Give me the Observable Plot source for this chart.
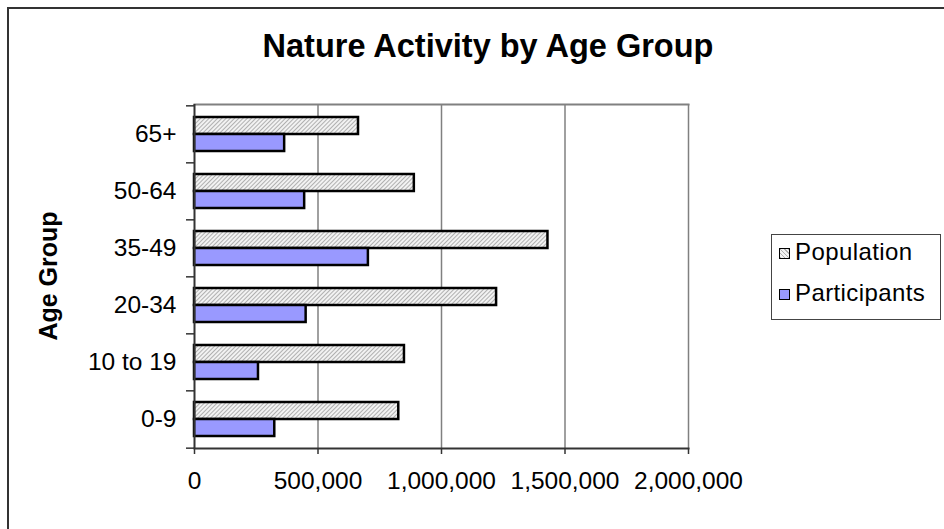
<!DOCTYPE html>
<html>
<head>
<meta charset="utf-8">
<script src="https://cdn.jsdelivr.net/npm/d3@7"></script>
<script src="https://cdn.jsdelivr.net/npm/@observablehq/plot@0.6"></script>
<style>
  html, body { margin: 0; padding: 0; background: #fff; width: 944px; height: 529px; overflow: hidden; }
  body { position: relative; font-family: "Liberation Sans", Arial, sans-serif; }
  #border { position: absolute; left: 7px; top: 7px; width: 1200px; height: 1200px;
            border-left: 2px solid #333; border-top: 2px solid #333; }
  #title { position: absolute; left: 0; width: 976px; top: 28px; text-align: center;
           font-weight: bold; font-size: 32.5px; color: #000; }
  #ylabel { position: absolute; left: 48px; top: 276px; transform: translate(-50%, -50%) rotate(-90deg);
            font-weight: bold; font-size: 25px; white-space: nowrap; color: #000; }
  #legend { position: absolute; left: 771px; top: 234px; width: 168px; height: 84px;
            border: 1.5px solid #444; background: #fff; }
  .item { position: absolute; left: 7px; font-size: 24px; letter-spacing: 0.4px; color: #000; white-space: nowrap; }
  .sw { display: inline-block; width: 9px; height: 9px; border: 1.5px solid #000; margin-right: 5px; vertical-align: 1px; }
  #chart { position: absolute; left: 0; top: 0; }
</style>
</head>
<body>
<div id="border"></div>
<div id="title">Nature Activity by Age Group</div>
<div id="ylabel">Age Group</div>
<div id="chart"></div>
<div id="legend">
  <div class="item" style="top:3px"><span class="sw" style="background: repeating-linear-gradient(45deg, #b0b0b0 0 1px, #f2f2f2 1px 3px);"></span>Population</div>
  <div class="item" style="top:44px"><span class="sw" style="background:#9999ff;"></span>Participants</div>
</div>
<script>
const ages = ["0-9", "10 to 19", "20-34", "35-49", "50-64", "65+"];
const population = [827000, 850000, 1223000, 1431000, 890000, 664000];
const participants = [325000, 259000, 452000, 704000, 446000, 365000];
const xTicks = [0, 500000, 1000000, 1500000, 2000000];

const data = ages.map((age, i) => ({age, population: population[i], participants: participants[i]}));

const W = 944, H = 529;
const mL = 194, mR = 256, mT = 104, mB = 81;
const padInner = 0.407, padOuter = padInner / 2;
const step = (H - mT - mB) / ages.length;
const bw = step * (1 - padInner);

const plot = Plot.plot({
  width: W, height: H,
  marginLeft: mL, marginRight: mR, marginTop: mT, marginBottom: mB,
  style: {fontFamily: '"Liberation Sans", Arial, sans-serif', fontSize: "24px", color: "#000", background: "transparent", overflow: "visible"},
  x: {domain: [0, 2000000], ticks: xTicks, tickFormat: d3.format(","), label: null},
  y: {domain: ages.slice().reverse(), paddingInner: padInner, paddingOuter: padOuter, label: null},
  marks: [
    Plot.ruleX(xTicks.slice(1), {stroke: "#808080", strokeWidth: 1.5}),
    Plot.frame({anchor: "top", stroke: "#808080", strokeWidth: 2}),
    Plot.barX(data, {y: "age", x: "population", fill: "url(#hatch)", stroke: "#000", strokeWidth: 2.5, insetBottom: bw / 2}),
    Plot.barX(data, {y: "age", x: "participants", fill: "#9999ff", stroke: "#000", strokeWidth: 2.5, insetTop: bw / 2}),
    Plot.ruleX([0], {stroke: "#333", strokeWidth: 2}),
    Plot.frame({anchor: "bottom", stroke: "#333", strokeWidth: 2}),
    Plot.axisX({ticks: xTicks, tickSize: 6, tickPadding: 17, stroke: "#333", strokeWidth: 1.5, fontSize: 24.5, label: null, tickFormat: d3.format(",")}),
    Plot.axisY({tickSize: 0, tickPadding: 18, fontSize: 24.5, label: null}),
    Plot.axisY({tickSize: 8, tickFormat: () => "", dy: -step / 2, stroke: "#333", strokeWidth: 1.5, label: null}),
    Plot.axisY({ticks: ["0-9"], tickSize: 8, tickFormat: () => "", dy: step / 2, stroke: "#333", strokeWidth: 1.5, label: null})
  ]
});

const svg = d3.select(plot);
const defs = svg.insert("defs", ":first-child");
const pat = defs.append("pattern").attr("id", "hatch").attr("width", 3).attr("height", 3)
  .attr("patternUnits", "userSpaceOnUse").attr("patternTransform", "rotate(45)");
pat.append("rect").attr("width", 3).attr("height", 3).attr("fill", "#f2f2f2");
pat.append("line").attr("x1", 0.5).attr("y1", 0).attr("x2", 0.5).attr("y2", 3).attr("stroke", "#b0b0b0").attr("stroke-width", 1);

document.getElementById("chart").appendChild(plot);
</script>
</body>
</html>
